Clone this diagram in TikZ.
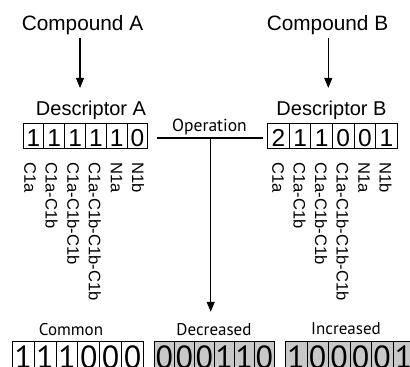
\documentclass[tikz,border=0pt]{standalone}
\usepackage{fontspec}
\setmainfont{Liberation Sans}
\newfontfamily\myr{PT Sans}
\usetikzlibrary{arrows.meta}
\definecolor{boxgray}{RGB}{200,200,200}
\begin{document}
\begin{tikzpicture}[x=1pt,y=-1pt,
  title/.style={font=\fontsize{20}{24}\selectfont, inner sep=0pt, anchor=base},
  sublab/.style={font=\myr\fontsize{17}{20}\selectfont, inner sep=0pt, anchor=base},
  lab/.style={rotate=-90, anchor=west, inner sep=0pt, font=\fontsize{16.6}{19}\selectfont},
  bitA/.style={draw, line width=0.9pt, minimum height=25pt, inner sep=0pt,
    text height=21pt, text depth=0pt, font=\fontsize{24.5}{28}\selectfont, anchor=north west},
  bitC/.style={draw, line width=0.9pt, minimum height=28pt, inner sep=0pt,
    text height=26pt, text depth=0pt, font=\myr\fontsize{32}{36}\selectfont, anchor=north west},
  arr/.style={line width=1.2pt, -{Triangle[width=8pt,length=10pt]}},
  conn/.style={line width=1.2pt}
]
\useasboundingbox (0,0) rectangle (410,367);
\clip (0,0) rectangle (410,367);

% titles
\node[title, font=\fontsize{20.8}{24}\selectfont] (cA) at (82.5,30) {Compound A};
\node[title, font=\fontsize{20.8}{24}\selectfont] (cB) at (327.5,30) {Compound B};
\node[title] (dA) at (91,115) {Descriptor A};
\node[title] (dB) at (331.5,115) {Descriptor B};

% descriptor boxes
\foreach \d [count=\i] in {1,1,1,1,1,0}
  \node[bitA, minimum width=20.77pt] (a\i) at ({22.7+20.77*(\i-1)},123) {\d};
\foreach \d [count=\i] in {2,1,1,0,0,1}
  \node[bitA, minimum width=21.57pt] (b\i) at ({267.3+21.57*(\i-1)},123) {\d};

% rotated labels
\foreach \t [count=\i] in {C1a,C1a-C1b,C1a-C1b-C1b,C1a-C1b-C1b-C1b,N1a,N1b} {
  \node[lab] (la\i) at ({30+21.6*(\i-1)},162) {\t};
  \node[lab] (lb\i) at ({278+21.5*(\i-1)},162) {\t};
}

% operation
\node[font=\myr\fontsize{17.5}{20}\selectfont, inner sep=0pt, anchor=base] (op) at (209.5,131) {Operation};
\coordinate (opl) at (157,138);
\coordinate (opr) at (263,138);
\coordinate (opm) at (210.7,138);

% bottom labels
\node[sublab] (com) at (71,335) {Common};
\node[sublab] (dec) at (214,335) {Decreased};
\node[sublab] (inc) at (346,334) {Increased};

% bottom boxes
\foreach \d [count=\i] in {1,1,1,0,0,0}
  \node[bitC, minimum width=21.83pt] (c\i) at ({12+21.83*(\i-1)},341) {\d};
\foreach \d [count=\i] in {0,0,0,1,1,0}
  \node[bitC, fill=boxgray, minimum width=20pt] (e\i) at ({154+20*(\i-1)},341) {\d};
\foreach \d [count=\i] in {1,0,0,0,0,1}
  \node[bitC, fill=boxgray, minimum width=21.5pt] (f\i) at ({285+21.5*(\i-1)},341) {\d};

% connectors
\draw[arr, shorten <=3.8pt, shorten >=12.4pt] ([xshift=-2.5pt]cA.south) -- ([xshift=-2.5pt]cA.south |- dA.north);
\draw[arr, shorten <=3.8pt, shorten >=12.4pt] ([xshift=0.8pt]cB.south) -- ([xshift=0.8pt]cB.south |- dB.north);
\draw[conn] (opl) -- (opr);
\draw[arr, shorten >=11pt] (opm) -- (opm |- dec.north);
\end{tikzpicture}
\end{document}
